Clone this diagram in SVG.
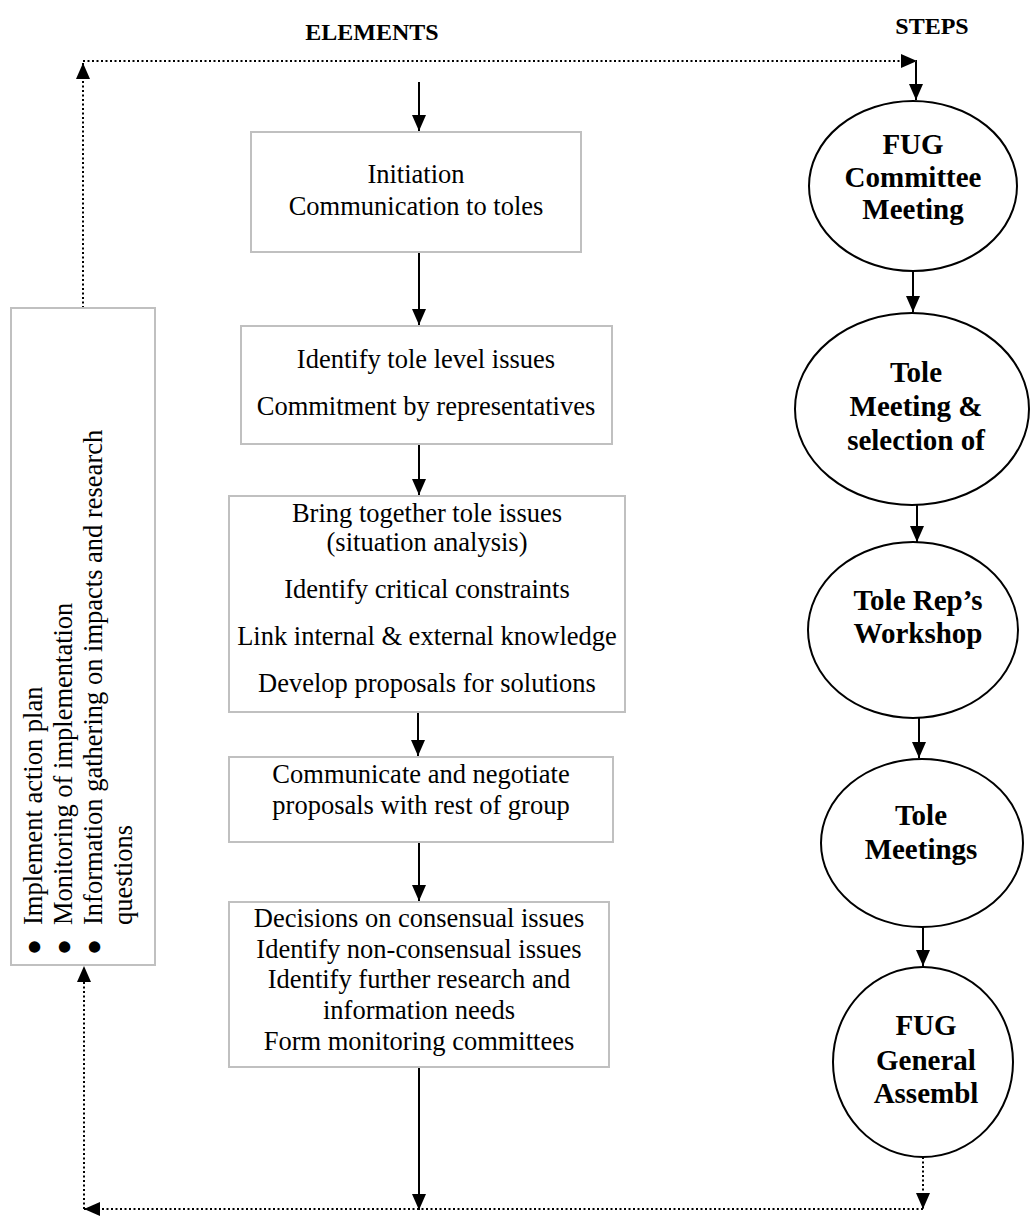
<svg xmlns="http://www.w3.org/2000/svg" width="1030" height="1219" viewBox="0 0 1030 1219">
<style>
.box{fill:#fff;stroke:#c0c0c0;stroke-width:2}
.ell{fill:#fff;stroke:#000;stroke-width:2}
.bt{font-family:"Liberation Serif","Times New Roman",serif;font-size:26.5px;fill:#000;text-anchor:middle}
.et{font-family:"Liberation Serif","Times New Roman",serif;font-size:29px;font-weight:bold;fill:#000;text-anchor:middle}
.hd{font-family:"Liberation Serif","Times New Roman",serif;font-size:24px;font-weight:bold;fill:#000;text-anchor:middle}
.lt{font-family:"Liberation Serif","Times New Roman",serif;font-size:26.5px;fill:#000}
.solid{fill:none;stroke:#000;stroke-width:2}
.dot{fill:none;stroke:#000;stroke-width:2;stroke-dasharray:2 2.5}
</style>
<defs>
<marker id="ah" viewBox="0 0 16 14" refX="16" refY="7" markerWidth="16" markerHeight="14" markerUnits="userSpaceOnUse" orient="auto">
<path d="M0,0 L16,7 L0,14 z" fill="#000"/>
</marker>
</defs>
<text class="hd" x="372" y="40">ELEMENTS</text>
<text class="hd" x="932" y="34">STEPS</text>

<g id="connectors">
<line class="solid" x1="419" y1="82" x2="419" y2="131" marker-end="url(#ah)"/>
<line class="solid" x1="419" y1="252" x2="419" y2="325" marker-end="url(#ah)"/>
<line class="solid" x1="419" y1="444" x2="419" y2="495" marker-end="url(#ah)"/>
<line class="solid" x1="418" y1="712" x2="418" y2="756" marker-end="url(#ah)"/>
<line class="solid" x1="419" y1="842" x2="419" y2="901" marker-end="url(#ah)"/>
<line class="solid" x1="419" y1="1067" x2="419" y2="1210" marker-end="url(#ah)"/>
<line class="solid" x1="916" y1="62" x2="916" y2="100" marker-end="url(#ah)"/>
<line class="solid" x1="913" y1="272" x2="913" y2="312" marker-end="url(#ah)"/>
<line class="solid" x1="917" y1="505" x2="917" y2="542" marker-end="url(#ah)"/>
<line class="solid" x1="919" y1="718" x2="919" y2="758" marker-end="url(#ah)"/>
<line class="solid" x1="923" y1="927" x2="923" y2="966" marker-end="url(#ah)"/>
<line class="dot" x1="83" y1="308" x2="83" y2="63" marker-end="url(#ah)"/>
<line class="dot" x1="83" y1="61" x2="917" y2="61" marker-end="url(#ah)"/>
<line class="dot" x1="923" y1="1157" x2="923" y2="1209" marker-end="url(#ah)"/>
<line class="dot" x1="923" y1="1209" x2="84" y2="1209" marker-end="url(#ah)"/>
<line class="dot" x1="84" y1="1209" x2="84" y2="966" marker-end="url(#ah)"/>
</g>

<g id="box-initiation">
<rect class="box" x="251" y="132" width="330" height="120"/>
<text class="bt" x="416" y="183">Initiation</text>
<text class="bt" x="416" y="215">Communication to toles</text>
</g>
<g id="box-identify">
<rect class="box" x="241" y="326" width="371" height="118"/>
<text class="bt" x="426" y="368">Identify tole level issues</text>
<text class="bt" x="426" y="415">Commitment by representatives</text>
</g>
<g id="box-bring">
<rect class="box" x="229" y="496" width="396" height="216"/>
<text class="bt" x="427" y="522">Bring together tole issues</text>
<text class="bt" x="427" y="551">(situation analysis)</text>
<text class="bt" x="427" y="598">Identify critical constraints</text>
<text class="bt" x="427" y="645">Link internal &amp; external knowledge</text>
<text class="bt" x="427" y="692">Develop proposals for solutions</text>
</g>
<g id="box-communicate">
<rect class="box" x="229" y="757" width="384" height="85"/>
<text class="bt" x="421" y="783">Communicate and negotiate</text>
<text class="bt" x="421" y="814">proposals with rest of group</text>
</g>
<g id="box-decisions">
<rect class="box" x="229" y="902" width="380" height="165"/>
<text class="bt" x="419" y="927">Decisions on consensual issues</text>
<text class="bt" x="419" y="958">Identify non-consensual issues</text>
<text class="bt" x="419" y="988">Identify further research and</text>
<text class="bt" x="419" y="1019">information needs</text>
<text class="bt" x="419" y="1050">Form monitoring committees</text>
</g>
<g id="box-implement">
<rect class="box" x="11" y="308" width="144" height="657"/>
<g transform="rotate(-90)">
<text class="lt" x="-955" y="42">●</text>
<text class="lt" x="-925" y="42">Implement action plan</text>
<text class="lt" x="-955" y="72">●</text>
<text class="lt" x="-925" y="72">Monitoring of implementation</text>
<text class="lt" x="-955" y="102">●</text>
<text class="lt" x="-925" y="102">Information gathering on impacts and research</text>
<text class="lt" x="-925" y="132">questions</text>
</g>
</g>

<g id="step-fug-committee">
<ellipse class="ell" cx="913" cy="186" rx="104" ry="85"/>
<text class="et" x="913" y="154">FUG</text>
<text class="et" x="913" y="187">Committee</text>
<text class="et" x="913" y="219">Meeting</text>
</g>
<g id="step-tole-meeting">
<ellipse class="ell" cx="912" cy="409" rx="117" ry="96"/>
<text class="et" x="916" y="382">Tole</text>
<text class="et" x="916" y="416">Meeting &amp;</text>
<text class="et" x="916" y="450">selection of</text>
</g>
<g id="step-workshop">
<ellipse class="ell" cx="913" cy="630" rx="105" ry="88"/>
<text class="et" x="918" y="610">Tole Rep’s</text>
<text class="et" x="918" y="643">Workshop</text>
</g>
<g id="step-tole-meetings">
<ellipse class="ell" cx="922" cy="843" rx="101" ry="84"/>
<text class="et" x="921" y="825">Tole</text>
<text class="et" x="921" y="859">Meetings</text>
</g>
<g id="step-general-assembly">
<ellipse class="ell" cx="923" cy="1062" rx="90" ry="95"/>
<text class="et" x="926" y="1035">FUG</text>
<text class="et" x="926" y="1070">General</text>
<text class="et" x="926" y="1103">Assembl</text>
</g>
</svg>
